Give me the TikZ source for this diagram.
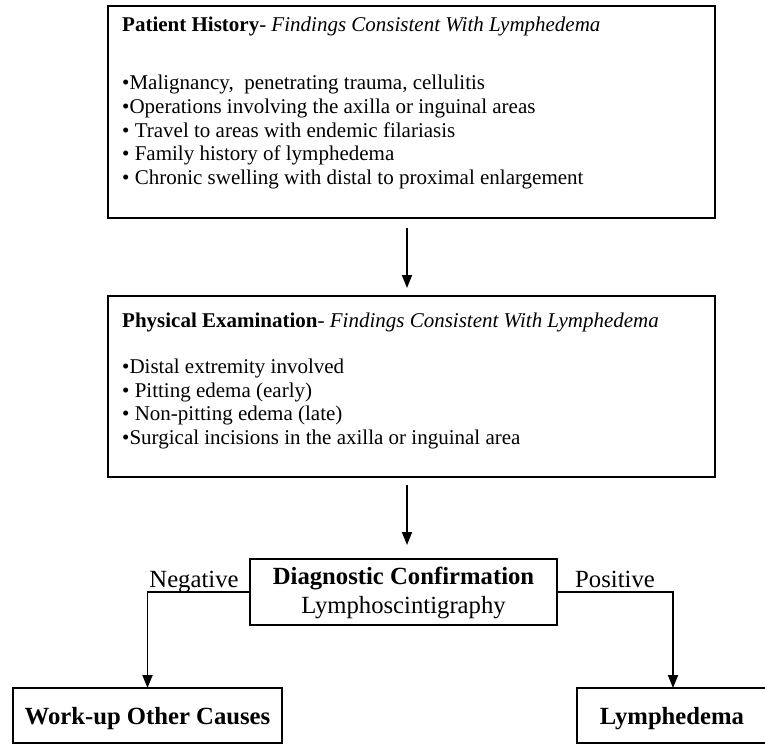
\documentclass[tikz,border=0pt]{standalone}
\usepackage{fontspec}
\setmainfont{Liberation Serif}
\usetikzlibrary{arrows.meta,calc}
\begin{document}
\begin{tikzpicture}[x=1pt,y=-1pt,
  box/.style={draw=black,line width=2pt,inner sep=0pt,outer sep=0pt},
  item/.style={font=\fontsize{21}{24}\selectfont,inner sep=0pt,anchor=base west},
  big/.style={font=\fontsize{24.7}{29}\selectfont,inner sep=0pt,anchor=base},
  arr/.style={line width=1.8pt,-{Triangle[width=10pt,length=13pt]}},
]
\useasboundingbox (0,0) rectangle (765,744);

% boxes
\node[box,minimum width=607pt,minimum height=212pt] (hist) at (411.5,112) {};
\node[box,minimum width=607pt,minimum height=181pt] (exam) at (411.5,386.5) {};
\node[box,minimum width=307pt,minimum height=66pt] (diag) at (403.5,592) {};
\node[box,minimum width=269pt,minimum height=55pt] (work) at (147.5,715.5) {};
% the right-hand outcome box runs past the page edge
\node[box,minimum width=199pt,minimum height=55pt] (lymph) at (676.5,715.5) {};
\coordinate (lymphin) at (673,688);

% patient history
\node[item] (h0) at (122,31) {\textbf{Patient History}- \textit{Findings Consistent With Lymphedema}};
\node[item] (h1) at (122,89) {•Malignancy,\ \ penetrating trauma, cellulitis};
\node[item] (h2) at (122,113) {•Operations involving the axilla or inguinal areas};
\node[item] (h3) at (122,137) {• Travel to areas with endemic filariasis};
\node[item] (h4) at (122,160) {• Family history of lymphedema};
\node[item] (h5) at (122,184) {• Chronic swelling with distal to proximal enlargement};

% physical examination
\node[item] (e0) at (122,327) {\textbf{Physical Examination}- \textit{Findings Consistent With Lymphedema}};
\node[item] (e1) at (122,373) {•Distal extremity involved};
\node[item] (e2) at (122,397) {• Pitting edema (early)};
\node[item] (e3) at (122,420) {• Non-pitting edema (late)};
\node[item] (e4) at (122,444) {•Surgical incisions in the axilla or inguinal area};

% confirmation and outcomes
\node[big] (d1) at (403.5,584) {\textbf{Diagnostic Confirmation}};
\node[big] (d2) at (403.5,613) {Lymphoscintigraphy};
\node[big] (neg) at (194,587) {Negative};
\node[big] (pos) at (615,587) {Positive};
\node[big] (w1) at (147.5,724) {\textbf{Work-up Other Causes}};
\node[big] (l1) at (672,724) {\textbf{Lymphedema}};

% connectors
\coordinate (axis) at (407,0);
\draw[arr] ($(hist.south -| axis)+(0,10)$) -- ($(exam.north -| axis)+(0,-8)$);
\draw[arr] ($(exam.south -| axis)+(0,8)$) -- ($(diag.north -| axis)+(0,-14)$);
\draw[arr] (diag.west) -| (work.north);
\draw[arr] (diag.east) -| (lymphin);
\end{tikzpicture}
\end{document}
